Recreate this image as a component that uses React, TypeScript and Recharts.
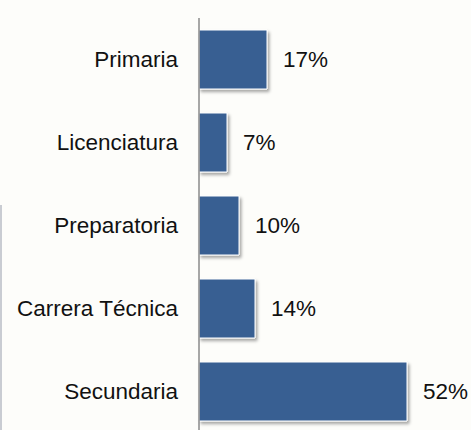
import { BarChart, Bar, XAxis, YAxis, LabelList } from "recharts";

const categories = ["Primaria", "Licenciatura", "Preparatoria", "Carrera Técnica", "Secundaria"];
const shares = [17, 7, 10, 14, 52];

const data = categories.map((name, i) => ({ name, value: shares[i] }));

const FONT = "'Liberation Sans', Arial, sans-serif";

export default function App() {
  return (
    <div
      style={{
        position: "fixed",
        top: 0,
        left: 0,
        width: 471,
        height: 430,
        overflow: "hidden",
        background: "#FDFDFA",
      }}
    >
      <div
        style={{
          position: "absolute",
          left: 0,
          top: 205,
          width: 2,
          height: 225,
          background: "#C9CCD2",
        }}
      />
      <BarChart
        width={471}
        height={440}
        layout="vertical"
        data={data}
        margin={{ top: 18, right: 32, left: 0, bottom: 7 }}
        barCategoryGap={12}
      >
        <defs>
          <filter id="barShadow" x="-10%" y="-10%" width="130%" height="140%">
            <feDropShadow dx="2" dy="2.5" stdDeviation="1.5" floodColor="#000" floodOpacity="0.35" />
          </filter>
        </defs>
        <XAxis type="number" domain={[0, 60]} hide />
        <YAxis
          type="category"
          dataKey="name"
          width={199}
          tickLine={false}
          tickSize={0}
          tickMargin={21}
          axisLine={{ stroke: "#8A8A8A", strokeWidth: 1.5 }}
          tick={{ fill: "#111", fontSize: 22.5, fontFamily: FONT }}
        />
        <Bar
          dataKey="value"
          fill="#375F92"
          stroke="#FFFFFF"
          strokeWidth={1}
          style={{ filter: "url(#barShadow)" }}
          isAnimationActive={false}
        >
          <LabelList
            dataKey="value"
            position="right"
            offset={16}
            formatter={(v: number) => `${v}%`}
            style={{ fill: "#111", fontSize: 22.5, fontFamily: FONT }}
          />
        </Bar>
      </BarChart>
    </div>
  );
}
